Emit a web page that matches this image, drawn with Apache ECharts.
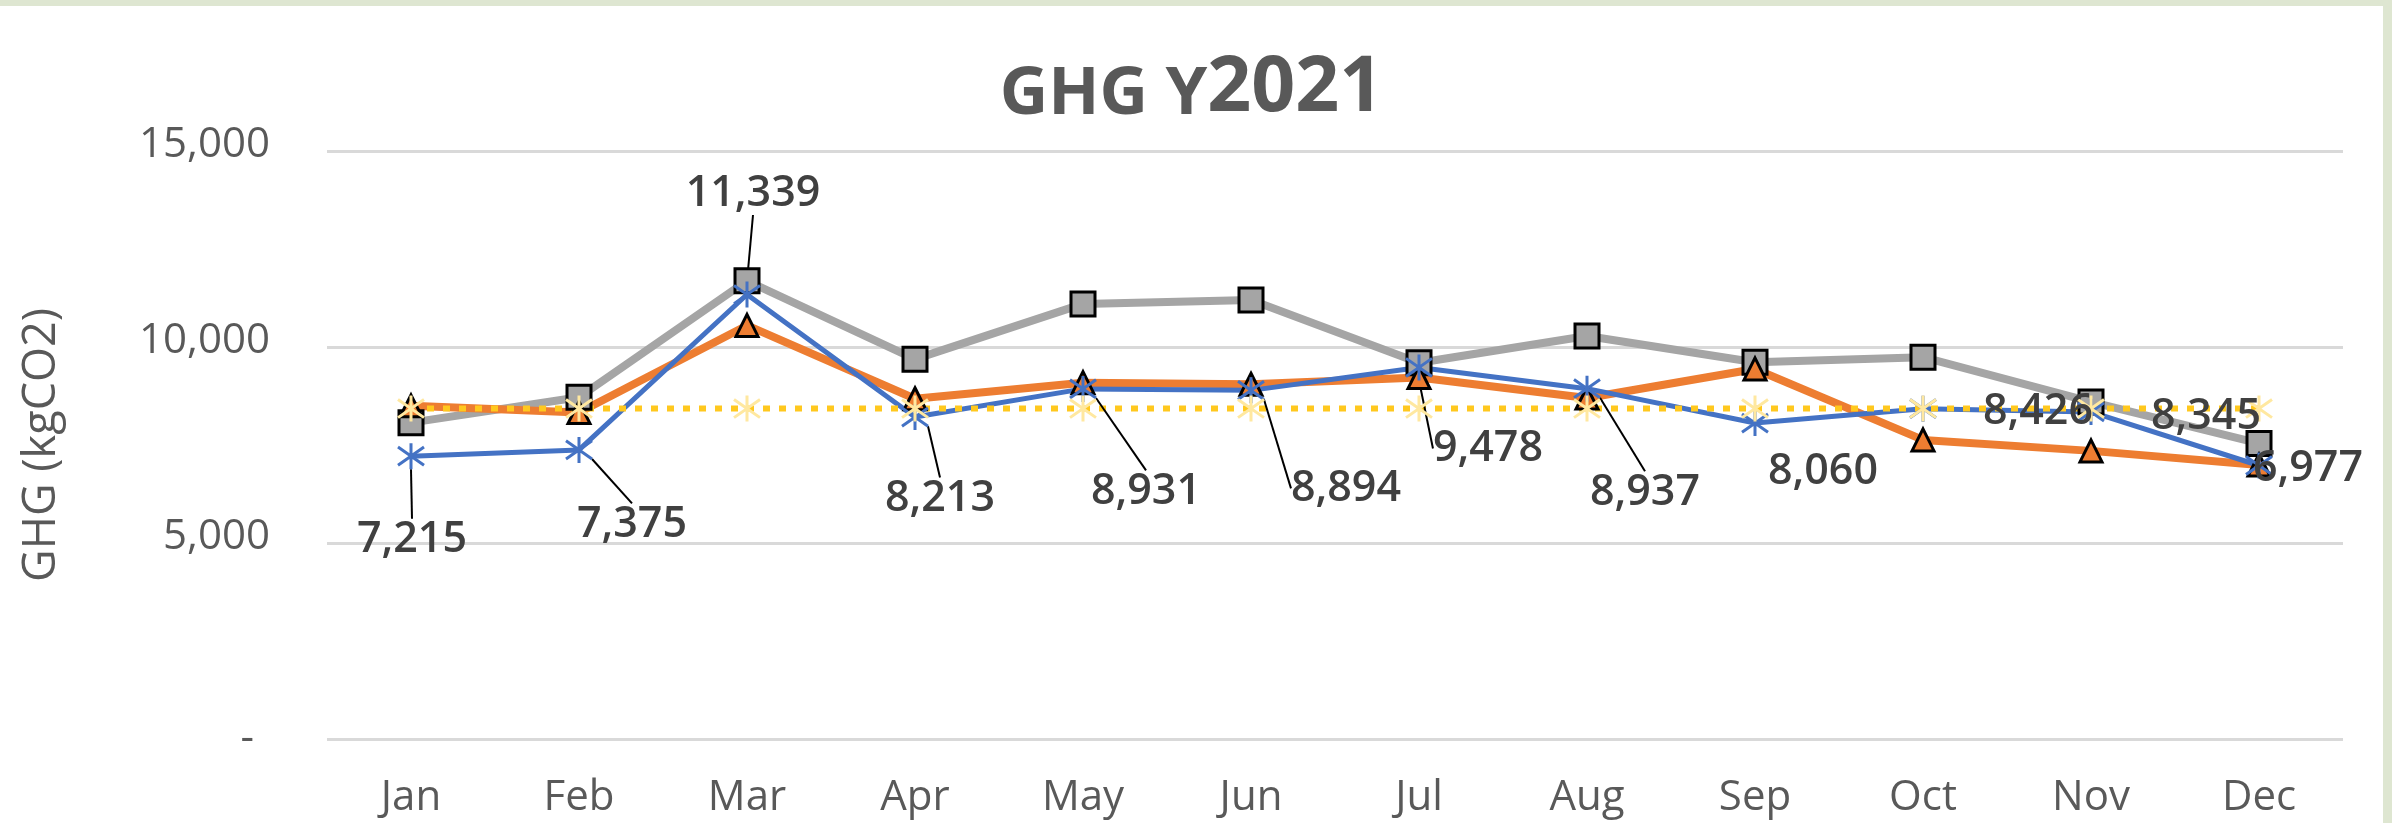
<!DOCTYPE html>
<html>
<head>
  <meta charset="utf-8">
  <title>GHG Y2021</title>
  <script src="https://cdn.jsdelivr.net/npm/echarts@6/dist/echarts.min.js"></script>
  <style>
    body { margin: 0; padding: 0; background: #dee6d1; }
    #main {
      position: absolute;
      left: 0;
      top: 6px;
      width: 2383px;
      height: 817px;
      background: #ffffff;
    }
  </style>
</head>
<body>
<div id="main"></div>
<script>
  // data
  const months = ['Jan', 'Feb', 'Mar', 'Apr', 'May', 'Jun', 'Jul', 'Aug', 'Sep', 'Oct', 'Nov', 'Dec'];
  const greySeries = [8070, 8720, 11690, 9690, 11100, 11200, 9600, 10280, 9610, 9740, 8600, 7540];
  const orangeSeries = [8500, 8330, 10550, 8680, 9090, 9050, 9220, 8700, 9440, 7630, 7350, 6990];
  const blueSeries = [7215, 7375, 11339, 8213, 8931, 8894, 9478, 8937, 8060, 8426, 8345, 6977];
  const yellowSeries = [8430, 8430, 8430, 8430, 8430, 8430, 8430, 8430, 8430, 8430, 8430, 8430];
  const yTicks = [0, 5000, 10000, 15000];

  // where the blue labels sit relative to their point, and which have a leader line
  const labelShift = [[1, 84], [53, 75], [6, -101], [25, 82], [63, 103], [95, 98],
    [69, 81], [58, 104], [68, 49], [115, 3], [115, 5], [49, 3]];
  const leader = [1, 1, 1, 1, 1, 1, 1, 1, 0, 0, 0, 0];

  const FONT = 'Open Sans';
  const AXIS_GREY = '#595959';
  const STAR = 'path://M10,0 L10,20 M1,3 L19,17 M1,17 L19,3';

  const fmt = (v) => v.toLocaleString('en-US');

  const chart = echarts.init(document.getElementById('main'), null, { renderer: 'canvas' });

  const option = {
    animation: false,
    backgroundColor: '#ffffff',
    textStyle: { fontFamily: FONT },
    title: {
      text: '{a|GHG Y}{b|2021}',
      left: 'center',
      top: 40,
      textStyle: {
        rich: {
          a: { fontFamily: FONT, fontWeight: 'bold', fontSize: 67, color: AXIS_GREY, verticalAlign: 'bottom' },
          b: { fontFamily: FONT, fontWeight: 'bold', fontSize: 77, color: AXIS_GREY, verticalAlign: 'bottom' }
        }
      }
    },
    grid: { left: 327, right: 40, top: 145, bottom: 84 },
    xAxis: {
      type: 'category',
      data: months,
      boundaryGap: true,
      axisLine: { show: false },
      axisTick: { show: false },
      axisLabel: { fontFamily: FONT, fontSize: 42, color: AXIS_GREY, margin: 38 }
    },
    yAxis: {
      type: 'value',
      min: yTicks[0],
      max: yTicks[yTicks.length - 1],
      interval: yTicks[1] - yTicks[0],
      name: 'GHG (kgCO2)',
      nameLocation: 'middle',
      nameGap: 262,
      nameTextStyle: { fontFamily: FONT, fontSize: 45, color: AXIS_GREY },
      axisLine: { show: false },
      axisTick: { show: false },
      splitLine: { lineStyle: { color: '#d9d9d9', width: 3 } },
      axisLabel: {
        fontFamily: FONT,
        fontSize: 42,
        color: AXIS_GREY,
        margin: 57,
        padding: [0, 0, 12, 0],
        formatter: (v) => (v === 0 ? '{d|-}' : fmt(v)),
        rich: { d: { fontFamily: FONT, fontSize: 42, color: AXIS_GREY, padding: [12, 16, 0, 0] } }
      }
    },
    series: [
      {
        name: 'grey',
        type: 'line',
        data: greySeries,
        symbol: 'rect',
        symbolSize: 24,
        lineStyle: { color: '#a5a5a5', width: 8 },
        itemStyle: { color: '#a5a5a5', borderColor: '#000000', borderWidth: 3 }
      },
      {
        name: 'orange',
        type: 'line',
        data: orangeSeries,
        symbol: 'triangle',
        symbolSize: 22,
        lineStyle: { color: '#ed7d31', width: 8 },
        itemStyle: { color: '#ed7d31', borderColor: '#000000', borderWidth: 3 }
      },
      {
        name: 'blue',
        type: 'line',
        data: blueSeries.map((v, i) => ({ value: v, labelLine: { show: !!leader[i] } })),
        symbol: STAR,
        symbolSize: 26,
        lineStyle: { color: '#4472c4', width: 5 },
        itemStyle: { color: 'rgba(0,0,0,0)', borderColor: '#4472c4', borderWidth: 3 },
        label: {
          show: true,
          position: 'inside',
          fontFamily: FONT,
          fontSize: 43,
          fontWeight: 600,
          color: '#404040',
          textBorderWidth: 0,
          formatter: (p) => fmt(p.value)
        },
        labelLine: { show: true, lineStyle: { color: '#000000', width: 2 } },
        labelLayout: (p) => ({ dx: labelShift[p.dataIndex][0], dy: labelShift[p.dataIndex][1] })
      },
      {
        name: 'yellow',
        type: 'line',
        data: yellowSeries,
        symbol: STAR,
        symbolSize: 26,
        lineStyle: { color: '#ffc81e', width: 6, type: [7, 9] },
        itemStyle: { color: 'rgba(0,0,0,0)', borderColor: '#ffe8a0', borderWidth: 3 }
      }
    ]
  };

  chart.setOption(option);
  window.addEventListener('resize', () => chart.resize());
</script>
</body>
</html>
